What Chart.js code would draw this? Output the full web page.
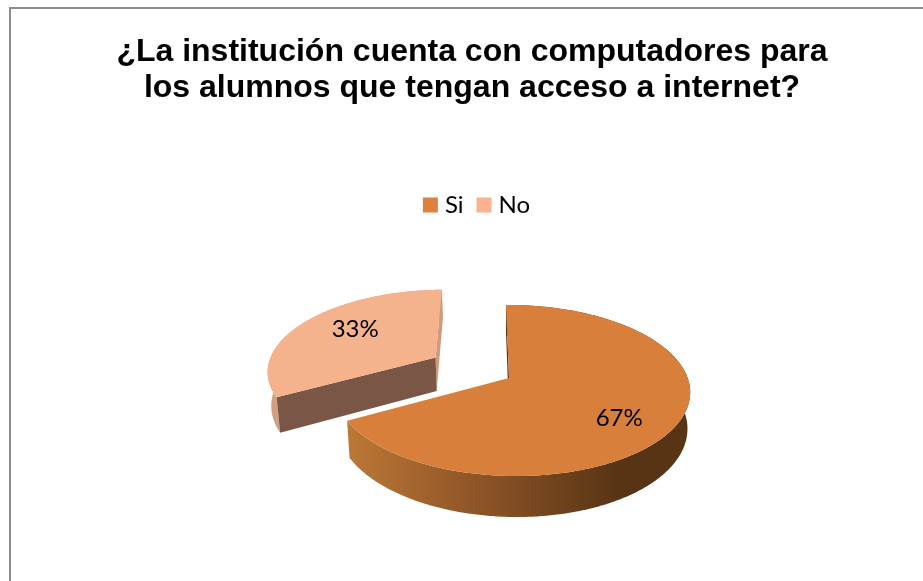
<!DOCTYPE html>
<html lang="es">
<head>
<meta charset="utf-8">
<title>Chart</title>
<script src="https://cdn.jsdelivr.net/npm/chart.js@4"></script>
<style>
html,body{margin:0;padding:0;background:#fff;overflow:hidden;width:923px;height:581px}
#frame{position:absolute;left:9px;top:7px;width:930px;height:600px;border-left:2px solid #8c8c8c;border-top:2px solid #8c8c8c;overflow:hidden}
canvas{display:block}
</style>
</head>
<body>
<div id="frame"><canvas id="c" width="922" height="575"></canvas></div>
<script>
const categories = ["Si", "No"];
const values = [67, 33];
const titleLines = ["¿La institución cuenta con computadores para", "los alumnos que tengan acceso a internet?"];
const legendColors = ["#DB8240", "#FCB291"];
const topColors = ["#D77F3B", "#F4B28D"];
const offsets = [0, 88];

// Oblique view of the pie: turns the library's slice angles into page positions.
const view = {cx: 498, cy: 369, rx: 176, ry: 83.7, k: 0.146, m: 0.015, shear: 0.04, depth: 35, taper: 0.985};
const sliceLook = {
  0: {wall: null, endFace: null, startFace: "#5A3515"},
  1: {wall: "#D49E80", endFace: "#CF9B7D", startFace: "#795646"}
};
const labelSpot = [{f: 0.7, dx: -4, dy: 9}, {f: 0.6, dx: 0, dy: -6}];

function project(u, v) {
  const d = 1 - view.k * v - view.m * u;
  const y = view.ry * v / d;
  return {x: view.cx + view.rx * u / d + view.shear * y, y: view.cy + y, d};
}
function lowered(p) {
  return {x: view.cx + (p.x - view.cx) * view.taper, y: p.y + view.depth / p.d};
}
function trace(ctx, pts) {
  ctx.beginPath();
  pts.forEach((p, i) => i ? ctx.lineTo(p.x, p.y) : ctx.moveTo(p.x, p.y));
  ctx.closePath();
}
function slicePoints(arc) {
  const {startAngle, endAngle} = arc.getProps(["startAngle", "endAngle"], true);
  const mid = (startAngle + endAngle) / 2;
  const e = (arc.options.offset || 0) / view.rx;
  const ou = Math.cos(mid) * e, ov = Math.sin(mid) * e;
  const rim = [];
  const n = Math.ceil((endAngle - startAngle) * 90);
  for (let i = 0; i <= n; i++) {
    const a = startAngle + (endAngle - startAngle) * i / n;
    rim.push(project(ou + Math.cos(a), ov + Math.sin(a)));
  }
  return {apex: project(ou, ov), rim, ou, ov, mid};
}

Chart.ArcElement.prototype.draw = function (ctx) {
  const index = this.$context ? this.$context.dataIndex : 0;
  const look = sliceLook[index];
  const {apex, rim} = slicePoints(this);
  const first = rim[0], last = rim[rim.length - 1];
  ctx.save();
  // outer wall
  trace(ctx, rim.concat(rim.map(lowered).reverse()));
  if (look.wall) {
    ctx.fillStyle = look.wall;
  } else {
    const g = ctx.createLinearGradient(339, 0, 610, 0);
    g.addColorStop(0, "#BB7734");
    g.addColorStop(0.4, "#95592A");
    g.addColorStop(1, "#573414");
    ctx.fillStyle = g;
  }
  ctx.fill();
  // cut faces
  if (look.endFace) {
    trace(ctx, [apex, last, lowered(last), lowered(apex)]);
    ctx.fillStyle = look.endFace;
    ctx.fill();
  }
  trace(ctx, [apex, first, lowered(first), lowered(apex)]);
  ctx.fillStyle = look.startFace;
  ctx.fill();
  // top face
  trace(ctx, [apex].concat(rim));
  ctx.fillStyle = this.options.backgroundColor;
  ctx.fill();
  ctx.restore();
};

const valueLabels = {
  id: "valueLabels",
  afterLayout(chart) {
    chart.legend.left += 7;
    chart.legend.right += 7;
  },
  afterDatasetsDraw(chart) {
    const ctx = chart.ctx;
    const total = values.reduce((a, b) => a + b, 0);
    ctx.save();
    ctx.font = "24px Lato";
    ctx.fillStyle = "#000";
    ctx.textAlign = "center";
    ctx.textBaseline = "middle";
    chart.getDatasetMeta(0).data.forEach((arc, i) => {
      const s = slicePoints(arc);
      const f = labelSpot[i].f;
      const p = project(s.ou + Math.cos(s.mid) * f, s.ov + Math.sin(s.mid) * f);
      ctx.fillText(Math.round(values[i] / total * 100) + "%", p.x + labelSpot[i].dx, p.y + labelSpot[i].dy);
    });
    ctx.restore();
  }
};

new Chart(document.getElementById("c"), {
  type: "pie",
  data: {
    labels: categories,
    datasets: [{data: values, backgroundColor: topColors, borderWidth: 0, offset: offsets}]
  },
  options: {
    responsive: false,
    animation: false,
    events: [],
    plugins: {
      tooltip: {enabled: false},
      title: {
        display: true,
        text: titleLines,
        color: "#000",
        font: {family: "'Liberation Sans'", size: 32, weight: "bold", lineHeight: 1.125},
        padding: {top: 25, bottom: 69}
      },
      legend: {
        display: true,
        position: "top",
        labels: {
          boxWidth: 5,
          boxHeight: 5,
          padding: 18,
          color: "#000",
          font: {family: "Lato", size: 24},
          generateLabels: () => categories.map((text, i) => ({
            text, index: i, fillStyle: legendColors[i], strokeStyle: legendColors[i], lineWidth: 10, fontColor: "#000"
          }))
        }
      }
    }
  },
  plugins: [valueLabels]
});
</script>
</body>
</html>
